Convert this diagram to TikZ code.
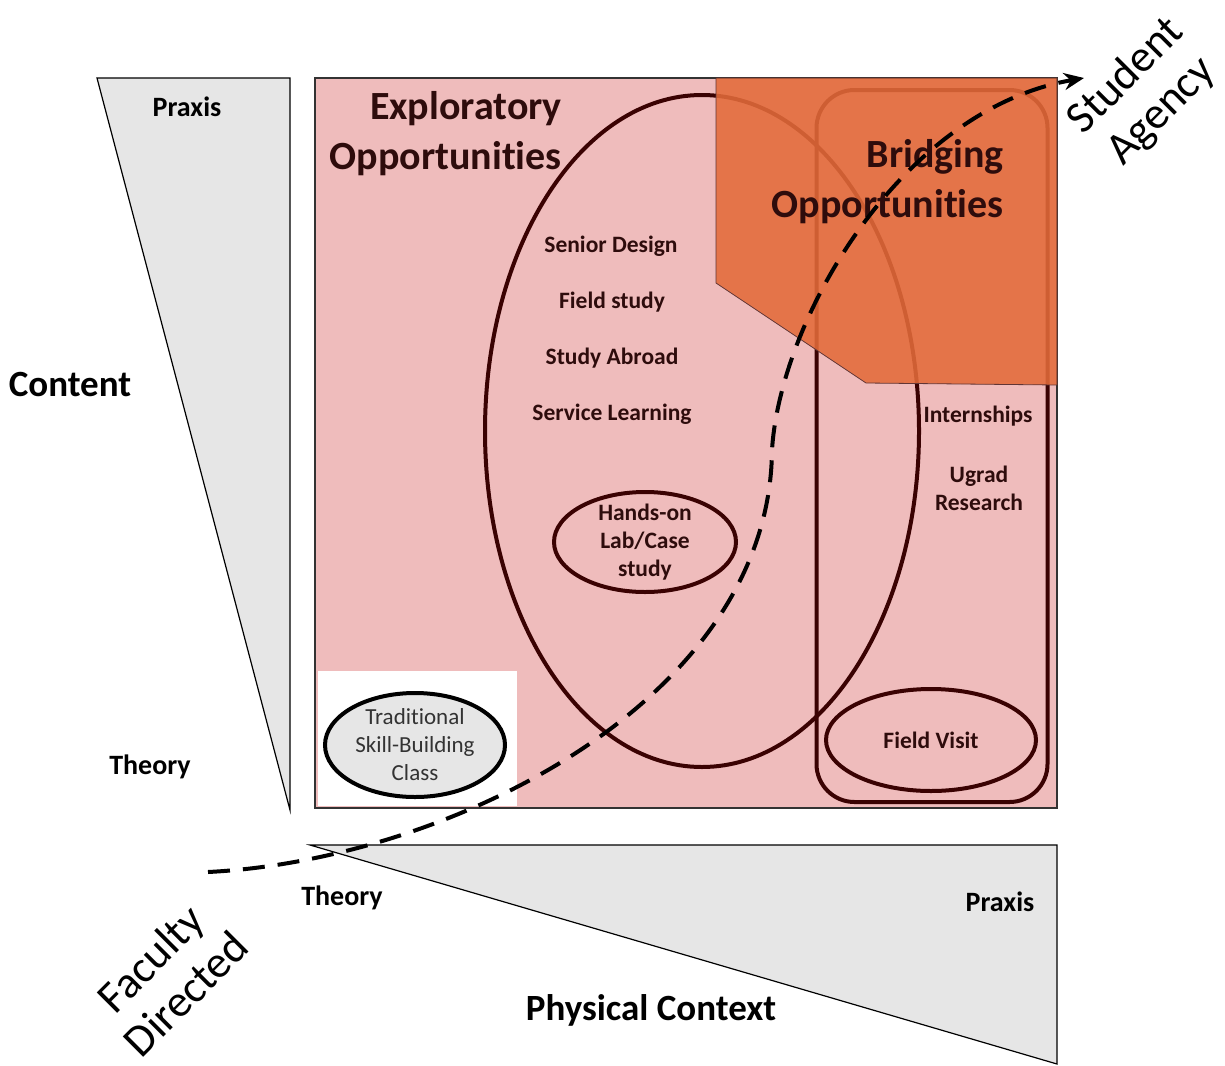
\documentclass[tikz,border=0pt]{standalone}
\usepackage{fontspec}
\setmainfont{Carlito}[Ligatures=NoCommon]
\usetikzlibrary{shapes.geometric,arrows.meta}

\definecolor{pinkfill}{HTML}{EFBCBC}
\definecolor{orangefill}{HTML}{E36B3A}
\definecolor{ringbrown}{HTML}{3A0202}
\definecolor{wedgegray}{HTML}{E6E6E6}
\definecolor{textdark}{HTML}{2E0C0C}

\begin{document}
\begin{tikzpicture}[x=1pt,y=-1pt,>={Stealth[length=20pt,width=17pt]},
  ring/.style={draw=ringbrown, line width=4pt},
  label/.style={font=\fontsize{23.5}{28}\selectfont\bfseries, text=textdark, inner sep=0pt},
  title/.style={font=\fontsize{40}{50}\selectfont\bfseries, text=textdark, inner sep=0pt},
  axis/.style={font=\fontsize{28}{30}\selectfont\bfseries, inner sep=0pt},
  axistitle/.style={font=\fontsize{37}{42}\selectfont\bfseries, inner sep=0pt},
  agency/.style={font=\fontsize{45}{50}\selectfont, rotate=45, align=center, inner sep=0pt}]
  \useasboundingbox (0,0) rectangle (1225,1065);

  % the two wedges
  \draw[fill=wedgegray, line width=1.2pt] (97,78) -- (290,78) -- (290,810) -- cycle;
  \draw[fill=wedgegray, line width=1.2pt] (310,845) -- (1057,845) -- (1057,1064) -- cycle;

  % the field
  \draw[fill=pinkfill, draw=black!80, line width=1.2pt] (315,78) rectangle (1057,808);
  \fill[white] (318,671) rectangle (517,806);

  \node[ring, ellipse, minimum width=434, minimum height=672] (explore) at (702,431) {};
  \node[ring, rectangle, rounded corners=38pt, minimum width=231, minimum height=712] (bridge) at (932,446) {};
  \node[ring, ellipse, minimum width=210, minimum height=102, label, inner sep=0pt] (visit) at (931,740) {Field Visit};
  \node[ring, ellipse, minimum width=182, minimum height=100] (handson) at (645,542) {};
  \node[ellipse, draw=black, line width=4pt, fill=wedgegray, minimum width=180, minimum height=104] (trad) at (415,745) {};

  % bridging corner
  \draw[fill=orangefill, fill opacity=0.88, draw=ringbrown!80, line width=0.8pt]
    (716,78) -- (1057,78) -- (1057,385) -- (866,383) -- (716,283) -- cycle;

  \node[title, anchor=east, align=right] (exptitle) at (562,134) {Exploratory\\Opportunities};
  \node[title, anchor=east, align=right] (bridgetitle) at (1004,182) {Bridging\\Opportunities};

  \node[label] (senior) at (611,246) {Senior Design};
  \node[label] (fstudy) at (612,302) {Field study};
  \node[label] (abroad) at (612,358) {Study Abroad};
  \node[label] (service) at (612,414) {Service Learning};
  \node[label, align=center] at (handson) {Hands-on\\Lab/Case\\study};
  \node[label] (intern) at (978,416) {Internships};
  \node[label, align=center] (ugrad) at (979,488) {Ugrad\\Research};
  \node[font=\fontsize{23}{28}\selectfont, text=black!80, align=center, inner sep=0pt] at (trad) {Traditional\\Skill-Building\\Class};

  % axes
  \node[axis] (cpraxis) at (187,107) {Praxis};
  \node[axis] (ctheory) at (150,767) {Theory};
  \node[axistitle] (content) at (70,384) {Content};
  \node[axis] (ptheory) at (342,898) {Theory};
  \node[axis] (ppraxis) at (1000,902) {Praxis};
  \node[axistitle] (physical) at (651,1010) {Physical Context};

  \node[agency] (student) at (1144,94) {Student\\Agency};
  \node[agency] (faculty) at (168,976) {Faculty\\Directed};

  % the path from faculty to student
  \coordinate (start) at (208,872);
  \coordinate (turn) at (772,450);
  \coordinate (tip) at (1084,78);
  \draw[->, line width=4pt, dash pattern=on 22pt off 13pt]
    (start) .. controls (450,860) and (770,700) .. (turn)
            .. controls (780,320) and (900,110) .. (tip);
\end{tikzpicture}
\end{document}
